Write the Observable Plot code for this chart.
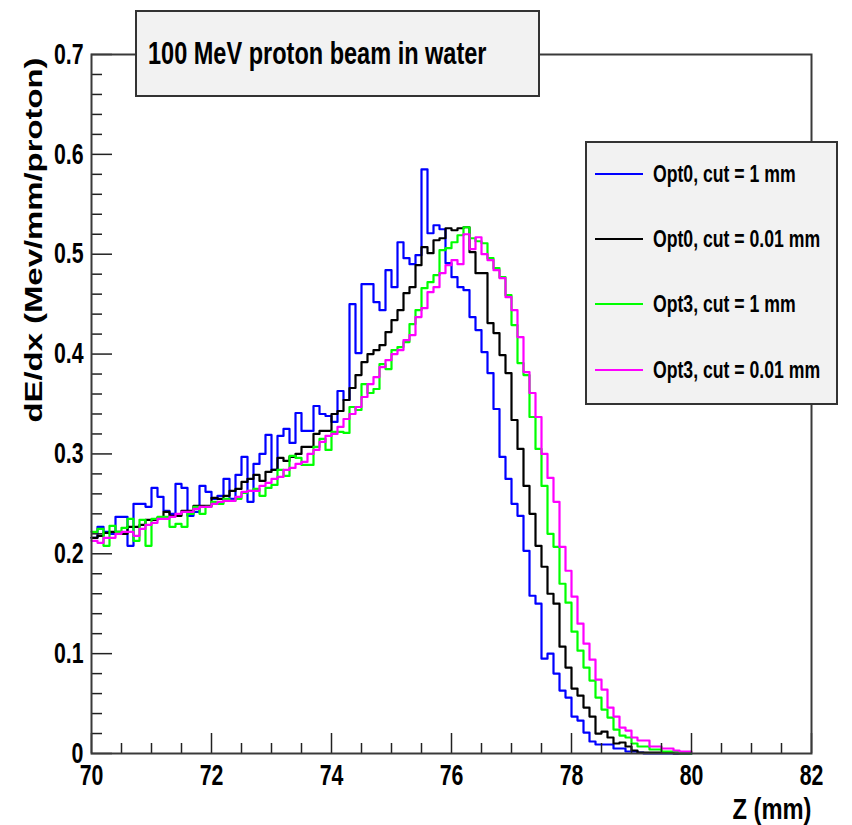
<!DOCTYPE html>
<html><head><meta charset="utf-8">
<script src="https://cdn.jsdelivr.net/npm/d3@7"></script>
<script src="https://cdn.jsdelivr.net/npm/@observablehq/plot@0.6"></script>
<style>
html,body{margin:0;padding:0;background:#fff;}
#wrap{position:relative;width:852px;height:825px;overflow:hidden;font-family:"Liberation Sans",Arial,sans-serif;font-weight:bold;color:#000;}
.box{position:absolute;box-sizing:border-box;background:#f2f2f2;border:2px solid #333;}
.sq{position:absolute;white-space:nowrap;transform:scaleX(0.735);transform-origin:0 50%;}
.sw{position:absolute;height:2px;}
</style></head><body>
<div id="wrap"><div id="chart"></div></div>
<script>
// ---- data ----
const binStart = 70;      // mm
const binWidth = 0.1;     // mm
const seriesNames = ["Opt0, cut = 1 mm", "Opt0, cut = 0.01 mm", "Opt3, cut = 1 mm", "Opt3, cut = 0.01 mm"];
const seriesColors = ["#0000ff", "#000000", "#00ff00", "#ff00ff"];

const opt0Cut1 = [0.216,0.227,0.222,0.220,0.237,0.237,0.208,0.250,0.250,0.247,
 0.266,0.257,0.243,0.240,0.270,0.266,0.238,0.242,0.268,0.262,
 0.255,0.258,0.275,0.255,0.279,0.297,0.252,0.290,0.300,0.319,
 0.284,0.318,0.325,0.311,0.341,0.323,0.323,0.348,0.340,0.338,
 0.332,0.363,0.354,0.450,0.401,0.470,0.470,0.452,0.444,0.484,
 0.467,0.512,0.496,0.490,0.499,0.585,0.521,0.529,0.525,0.491,
 0.477,0.467,0.464,0.437,0.424,0.402,0.381,0.345,0.297,0.275,
 0.250,0.238,0.203,0.158,0.150,0.095,0.100,0.080,0.063,0.056,
 0.037,0.033,0.021,0.012,0.009,0.009,0.009,0.005,0.005,0.002,
 0.002,0.001,0,0,0,0,0,0,0,0];
const opt0Cut001 = [0.216,0.218,0.221,0.222,0.222,0.220,0.227,0.227,0.229,0.234,
 0.234,0.236,0.242,0.238,0.238,0.243,0.243,0.248,0.248,0.248,
 0.256,0.255,0.258,0.263,0.265,0.272,0.275,0.279,0.273,0.282,
 0.284,0.296,0.293,0.297,0.300,0.307,0.307,0.320,0.323,0.323,
 0.340,0.343,0.354,0.366,0.379,0.392,0.400,0.404,0.409,0.422,
 0.434,0.444,0.461,0.467,0.489,0.507,0.501,0.514,0.516,0.526,
 0.524,0.526,0.527,0.502,0.481,0.481,0.431,0.421,0.399,0.381,
 0.334,0.305,0.268,0.240,0.208,0.187,0.160,0.150,0.107,0.086,
 0.065,0.058,0.046,0.037,0.020,0.022,0.016,0.010,0.011,0.007,
 0.003,0.001,0.001,0.001,0.001,0.001,0.001,0,0,0];
const opt3Cut1 = [0.222,0.225,0.208,0.228,0.222,0.226,0.235,0.213,0.234,0.208,
 0.235,0.237,0.237,0.227,0.230,0.227,0.240,0.247,0.240,0.247,
 0.252,0.250,0.255,0.253,0.255,0.261,0.263,0.265,0.258,0.266,
 0.269,0.284,0.278,0.298,0.296,0.289,0.289,0.307,0.315,0.304,
 0.322,0.322,0.321,0.347,0.344,0.370,0.361,0.365,0.390,0.385,
 0.404,0.407,0.412,0.430,0.444,0.466,0.472,0.479,0.504,0.506,
 0.512,0.519,0.527,0.516,0.513,0.511,0.496,0.486,0.477,0.459,
 0.429,0.391,0.379,0.337,0.305,0.268,0.220,0.207,0.170,0.151,
 0.122,0.103,0.086,0.073,0.056,0.044,0.036,0.024,0.018,0.016,
 0.010,0.007,0.007,0.004,0.004,0.002,0.002,0.002,0,0];
const opt3Cut001 = [0.213,0.211,0.216,0.216,0.220,0.222,0.222,0.218,0.225,0.229,
 0.231,0.235,0.235,0.237,0.240,0.242,0.242,0.245,0.247,0.247,
 0.250,0.252,0.253,0.253,0.257,0.262,0.263,0.263,0.268,0.271,
 0.275,0.277,0.284,0.286,0.290,0.292,0.300,0.304,0.312,0.318,
 0.320,0.327,0.335,0.340,0.347,0.357,0.370,0.377,0.387,0.394,
 0.400,0.404,0.414,0.419,0.437,0.446,0.462,0.467,0.481,0.489,
 0.494,0.490,0.520,0.505,0.517,0.500,0.494,0.484,0.476,0.457,
 0.444,0.417,0.382,0.361,0.337,0.300,0.276,0.252,0.207,0.183,
 0.157,0.130,0.110,0.094,0.074,0.064,0.046,0.037,0.026,0.023,
 0.016,0.013,0.013,0.007,0.007,0.005,0.005,0.003,0.002,0.002];

const xMajorTicks = [70, 72, 74, 76, 78, 80, 82];
const xMinorTicks = [70.5,71,71.5,72.5,73,73.5,74.5,75,75.5,76.5,77,77.5,78.5,79,79.5,80.5,81,81.5];
const yMajorTicks = [0, 0.1, 0.2, 0.3, 0.4, 0.5, 0.6, 0.7];
const yMinorTicks = [0.02,0.04,0.06,0.08,0.12,0.14,0.16,0.18,0.22,0.24,0.26,0.28,0.32,0.34,0.36,0.38,0.42,0.44,0.46,0.48,0.52,0.54,0.56,0.58,0.62,0.64,0.66,0.68];
const titleText = "100 MeV proton beam in water";
const xTitle = "Z (mm)";
const yTitle = "dE/dx (Mev/mm/proton)";

// ---- build table ----
const allSeries = [opt0Cut1, opt0Cut001, opt3Cut1, opt3Cut001];
const rows = [];
allSeries.forEach((vals, k) => {
  vals.forEach((v, i) => rows.push({z: binStart + i * binWidth, v, s: seriesNames[k]}));
  rows.push({z: binStart + vals.length * binWidth, v: vals[vals.length - 1], s: seriesNames[k]});
});

const W = 852, H = 825, mL = 91, mR = 41, mT = 54, mB = 72;
const innerW = W - mL - mR, innerH = H - mT - mB;
const FS = 29;

const chart = Plot.plot({
  width: W, height: H,
  marginLeft: mL, marginRight: mR, marginTop: mT, marginBottom: mB,
  style: {fontFamily: "'Liberation Sans', Arial, sans-serif", fontWeight: "bold", background: "#fff", color: "#000"},
  x: {domain: [70, 82]},
  y: {domain: [0, 0.7]},
  color: {domain: seriesNames, range: seriesColors},
  marks: [
    Plot.line(rows, {x: "z", y: "v", z: "s", stroke: "s", curve: "step-after", strokeWidth: 2.2}),
    Plot.tickY(yMajorTicks, {y: d => d, insetRight: innerW - 21, stroke: "#222", strokeWidth: 1.5}),
    Plot.tickY(yMinorTicks, {y: d => d, insetRight: innerW - 11, stroke: "#222", strokeWidth: 1.5}),
    Plot.tickX(xMajorTicks, {x: d => d, insetTop: innerH - 20, stroke: "#222", strokeWidth: 1.5}),
    Plot.tickX(xMinorTicks, {x: d => d, insetTop: innerH - 10, stroke: "#222", strokeWidth: 1.5}),
    Plot.frame({stroke: "#3a3a3a", strokeWidth: 2}),
    Plot.axisY(yMajorTicks, {tickSize: 0, tickPadding: 8, fontSize: FS, label: null,
      tickFormat: d => d === 0 ? "0" : d.toFixed(1)}),
    Plot.axisX(xMajorTicks, {tickSize: 0, tickPadding: 11, fontSize: FS, label: null, tickFormat: d => String(d)}),
    Plot.text([xTitle], {frameAnchor: "bottom-right", text: d => d, textAnchor: "end", lineAnchor: "middle", dy: 56, fontSize: FS}),
    Plot.text([yTitle], {frameAnchor: "top-left", text: d => d, rotate: -90, textAnchor: "end", lineAnchor: "middle", dx: -57, dy: 3, fontSize: 24})
  ]
});
document.getElementById("chart").appendChild(chart);

// condense glyphs as in the original
chart.querySelectorAll("text").forEach(t => {
  const L = t.getComputedTextLength();
  if (!L) return;
  let target = L * 0.735;
  if (t.textContent === yTitle) target = 365;
  if (t.textContent === xTitle) target = 79;
  t.setAttribute("textLength", target.toFixed(1));
  t.setAttribute("lengthAdjust", "spacingAndGlyphs");
});

// title box
const wrap = document.getElementById("wrap");
const tb = document.createElement("div");
tb.className = "box";
Object.assign(tb.style, {left: "135px", top: "10px", width: "405px", height: "87px"});
const tt = document.createElement("span");
tt.className = "sq";
tt.textContent = titleText;
Object.assign(tt.style, {left: "11px", top: "0px", lineHeight: "83px", fontSize: "32px"});
tb.appendChild(tt);
wrap.appendChild(tb);

// legend box
const lb = document.createElement("div");
lb.className = "box";
Object.assign(lb.style, {left: "585px", top: "141px", width: "253px", height: "264px"});
const rowCenters = [32, 97, 162, 228];
seriesNames.forEach((name, k) => {
  const sw = document.createElement("div");
  sw.className = "sw";
  Object.assign(sw.style, {left: "8px", width: "48px", top: (rowCenters[k] - 2) + "px", background: seriesColors[k]});
  lb.appendChild(sw);
  const tx = document.createElement("span");
  tx.className = "sq";
  tx.textContent = name;
  Object.assign(tx.style, {left: "66px", top: (rowCenters[k] - 15) + "px", lineHeight: "28px", fontSize: "24px"});
  lb.appendChild(tx);
});
wrap.appendChild(lb);
</script>
</body></html>
